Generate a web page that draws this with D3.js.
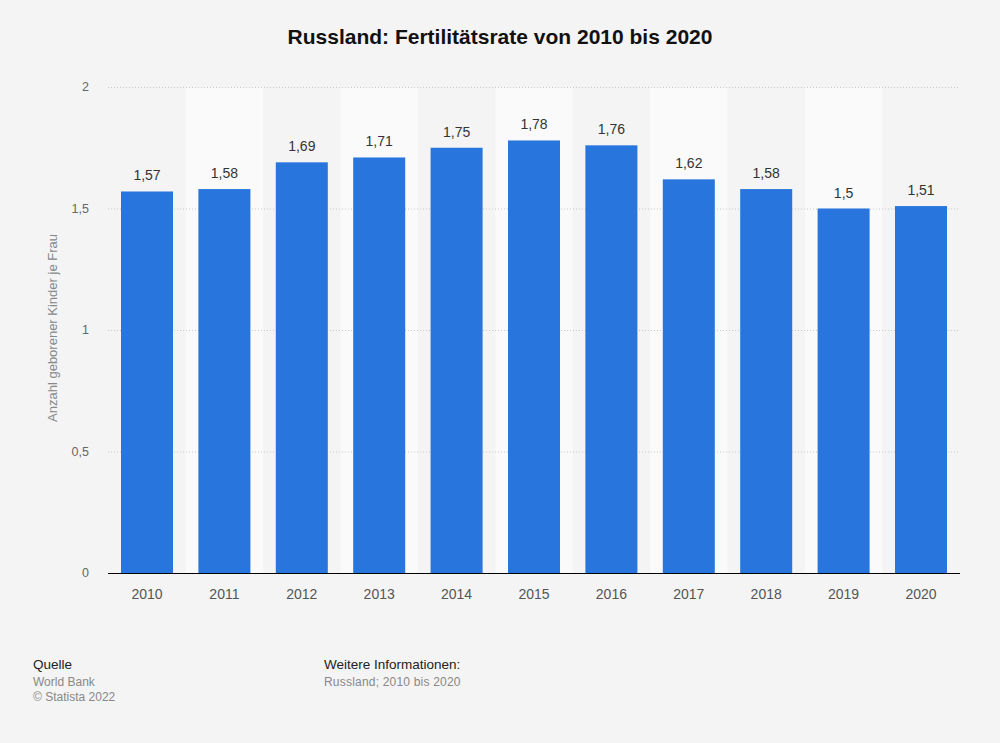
<!DOCTYPE html>
<html><head><meta charset="utf-8">
<script src="https://cdn.jsdelivr.net/npm/d3@7"></script>
<style>
html,body{margin:0;padding:0;background:#f4f4f4;}
text{font-family:"Liberation Sans",Arial,sans-serif;}
</style></head>
<body>
<svg id="chart" width="1000" height="743"></svg>
<script>
const years = ["2010","2011","2012","2013","2014","2015","2016","2017","2018","2019","2020"];
const values = [1.57,1.58,1.69,1.71,1.75,1.78,1.76,1.62,1.58,1.5,1.51];
const yTicks = [0,0.5,1,1.5,2];
const title = "Russland: Fertilitätsrate von 2010 bis 2020";
const yLabel = "Anzahl geborener Kinder je Frau";

const svg = d3.select("#chart");
svg.append("rect").attr("width",1000).attr("height",743).attr("fill","#f4f4f4");

const x = d3.scaleBand().domain(years).range([108.3,959.7]).paddingInner(0.328).paddingOuter(0.164);
const y = d3.scaleLinear().domain([0,2]).range([573,87]);
const fmt = v => String(v).replace(".",",");

// alternating column backgrounds
const step = x.step();
svg.append("g").selectAll("rect").data(years.filter((d,i)=>i%2===1)).join("rect")
  .attr("x",d=>x(d)-(step-x.bandwidth())/2).attr("width",step)
  .attr("y",y(2)).attr("height",y(0)-y(2)).attr("fill","#fafafa");

// grid
svg.append("g").selectAll("line").data(yTicks.filter(t=>t>0)).join("line")
  .attr("x1",108).attr("x2",960).attr("y1",d=>y(d)+0.5).attr("y2",d=>y(d)+0.5)
  .attr("stroke","#c8c8c8").attr("stroke-dasharray","1,2");

// y tick labels
svg.append("g").selectAll("text").data(yTicks).join("text")
  .attr("x",89).attr("y",d=>y(d)+4).attr("text-anchor","end")
  .attr("font-size",12.5).attr("fill","#666").text(fmt);

// bars
svg.append("g").selectAll("rect").data(values).join("rect")
  .attr("x",(d,i)=>x(years[i])).attr("width",x.bandwidth())
  .attr("y",d=>y(d)).attr("height",d=>y(0)-y(d)).attr("fill","#2876dd");

// value labels
svg.append("g").selectAll("text").data(values).join("text")
  .attr("x",(d,i)=>x(years[i])+x.bandwidth()/2).attr("y",d=>y(d)-11)
  .attr("text-anchor","middle").attr("font-size",14).attr("fill","#333").text(fmt);

// baseline
svg.append("line").attr("x1",108).attr("x2",960).attr("y1",y(0)+0.5).attr("y2",y(0)+0.5)
  .attr("stroke","#000").attr("stroke-width",1.2);

// x labels
svg.append("g").selectAll("text").data(years).join("text")
  .attr("x",d=>x(d)+x.bandwidth()/2).attr("y",599).attr("text-anchor","middle")
  .attr("font-size",14).attr("fill","#555").text(d=>d);

// y axis title
svg.append("text").attr("transform","translate(57,328) rotate(-90)")
  .attr("text-anchor","middle").attr("font-size",13).attr("fill","#888").text(yLabel);

// title
svg.append("text").attr("x",500).attr("y",44).attr("text-anchor","middle")
  .attr("font-size",21).attr("font-weight","bold").attr("fill","#111").text(title);

// footer
const foot = svg.append("g");
foot.append("text").attr("x",33).attr("y",669).attr("font-size",13.5).attr("fill","#222").text("Quelle");
foot.append("text").attr("x",33).attr("y",686).attr("font-size",12).attr("fill","#888").text("World Bank");
foot.append("text").attr("x",33).attr("y",701).attr("font-size",12).attr("fill","#888").text("© Statista 2022");
foot.append("text").attr("x",324).attr("y",669).attr("font-size",13.5).attr("fill","#222").text("Weitere Informationen:");
foot.append("text").attr("x",324).attr("y",686).attr("font-size",12).attr("letter-spacing",0.2).attr("fill","#888").text("Russland; 2010 bis 2020");
</script>
</body></html>
